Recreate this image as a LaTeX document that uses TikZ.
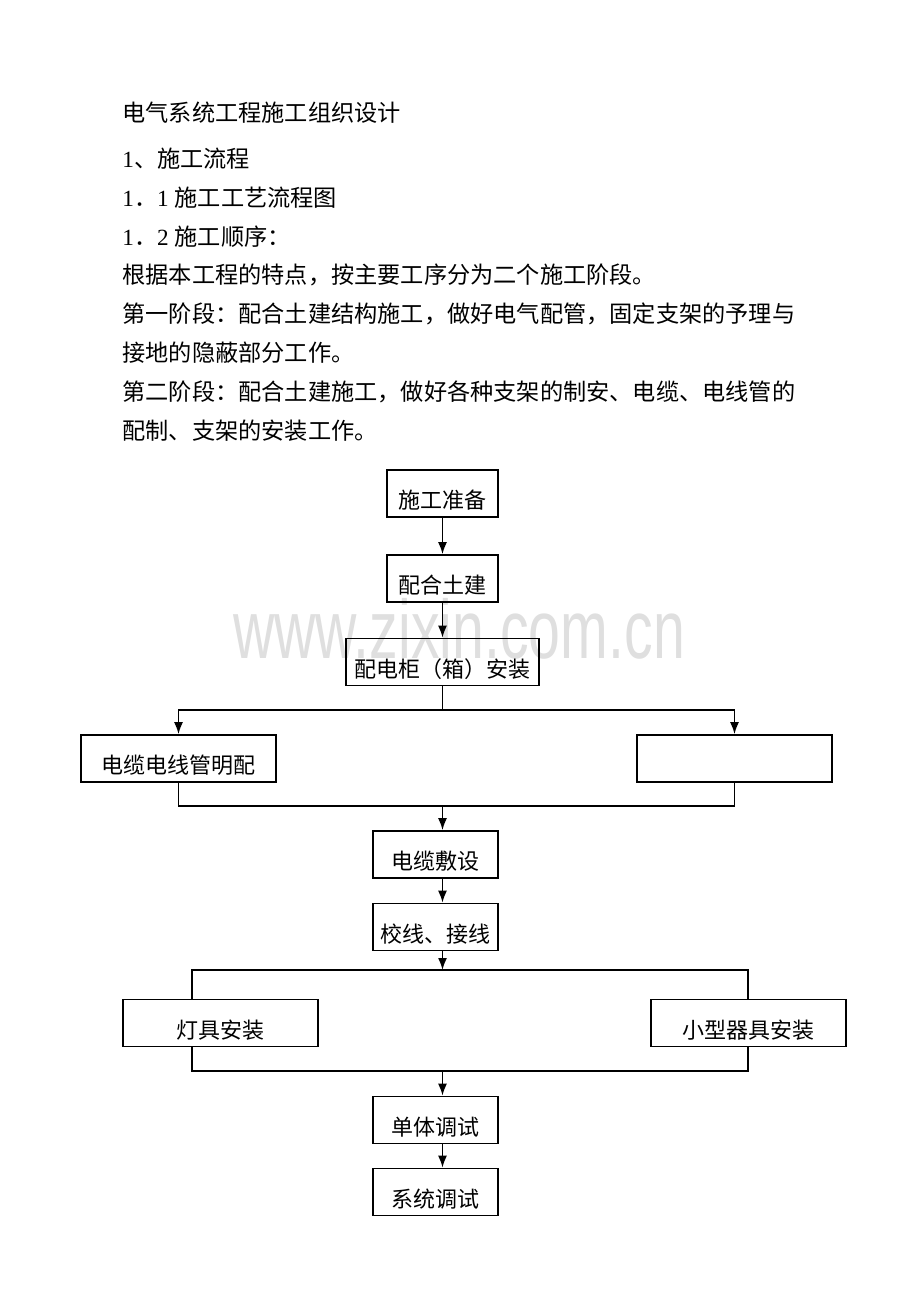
\documentclass[tikz,border=0pt]{standalone}
\usepackage{fontspec}
\setmainfont{Liberation Serif}
\newfontfamily\cjk{Noto Sans CJK SC}
\newfontfamily\wmfont{Liberation Sans}
\usetikzlibrary{arrows.meta}

\begin{document}
\begin{tikzpicture}[x=0.5pt, y=-0.5pt,
  box/.style={draw, line width=0.85pt, inner sep=0pt, minimum height=23.5pt,
    text height=15pt, text depth=0pt, font=\cjk\fontsize{11}{11}\selectfont},
  line/.style={line width=0.85pt},
  arr/.style={line width=0.85pt, -{Latex[length=6pt,width=4.5pt]}}]
\useasboundingbox (0,0) rectangle (920,1302);

% watermark
\node[text=gray!25, font=\wmfont\fontsize{41.5}{41.5}\selectfont, anchor=base, inner sep=0pt] (wm) at (459,658) {\scalebox{0.69}[1]{www.zixin.com.cn}};

% heading and text
\foreach \y/\t in {121/电气系统工程施工组织设计, 167/\textrm{1}、施工流程,
  206/\textrm{1}．\textrm{1 }施工工艺流程图, 245/\textrm{1}．\textrm{2 }施工顺序：,
  283/根据本工程的特点，按主要工序分为二个施工阶段。,
  322/第一阶段：配合土建结构施工，做好电气配管，固定支架的予理与,
  361/接地的隐蔽部分工作。,
  400/第二阶段：配合土建施工，做好各种支架的制安、电缆、电线管的,
  439/配制、支架的安装工作。}
\node[anchor=base west, inner sep=0pt, font=\cjk\fontsize{11.6}{11.6}\selectfont] (t\y) at (122,\y) {\t};

% flow chart
\node[box, minimum width=55.5pt] (prep) at (442.5,493.5) {施工准备};
\node[box, minimum width=55.5pt] (civil) at (442.5,578.5) {配合土建};
\node[box, minimum width=96.5pt] (cab) at (442.5,662) {配电柜（箱）安装};
\node[box, minimum width=97.5pt] (pipe) at (178.5,758.5) {电缆电线管明配};
\node[box, minimum width=97.5pt] (blank) at (734.5,758.5) {};
\node[box, minimum width=62.5pt] (lay) at (435.5,854.5) {电缆敷设};
\node[box, minimum width=62.5pt] (wire) at (435.5,927) {校线、接线};
\node[box, minimum width=97.5pt] (lamp) at (220.5,1023) {灯具安装};
\node[box, minimum width=97.5pt] (small) at (748.5,1023) {小型器具安装};
\node[box, minimum width=62.5pt] (unit) at (435.5,1120) {单体调试};
\node[box, minimum width=62.5pt] (sys) at (435.5,1192) {系统调试};

\coordinate (s1) at (442.5,710);
\coordinate (m1) at (442.5,806);
\coordinate (s2) at (442.5,970);
\coordinate (s2l) at (192,970);
\coordinate (s2r) at (748,970);
\coordinate (m2) at (442.5,1071);

\draw[arr] (prep) -- (civil);
\draw[arr] (civil) -- (cab);
\draw[line] (cab) -- (s1);
\draw[arr] (s1) -| (pipe);
\draw[arr] (s1) -| (blank);
\draw[line] (pipe) |- (m1);
\draw[line] (blank) |- (m1);
\draw[arr] (m1) -- (m1 |- lay.north);
\draw[arr] (lay.south -| m1) -- (wire.north -| m1);
\draw[arr] (wire.south -| s2) -- (s2);
\draw[line] (s2l |- lamp.north) -- (s2l) -- (s2r) -- (s2r |- small.north);
\draw[line] (lamp.south -| s2l) -- (s2l |- m2) -- (s2r |- m2) -- (small.south -| s2r);
\draw[arr] (m2) -- (m2 |- unit.north);
\draw[arr] (unit.south -| m2) -- (sys.north -| m2);
\end{tikzpicture}
\end{document}
